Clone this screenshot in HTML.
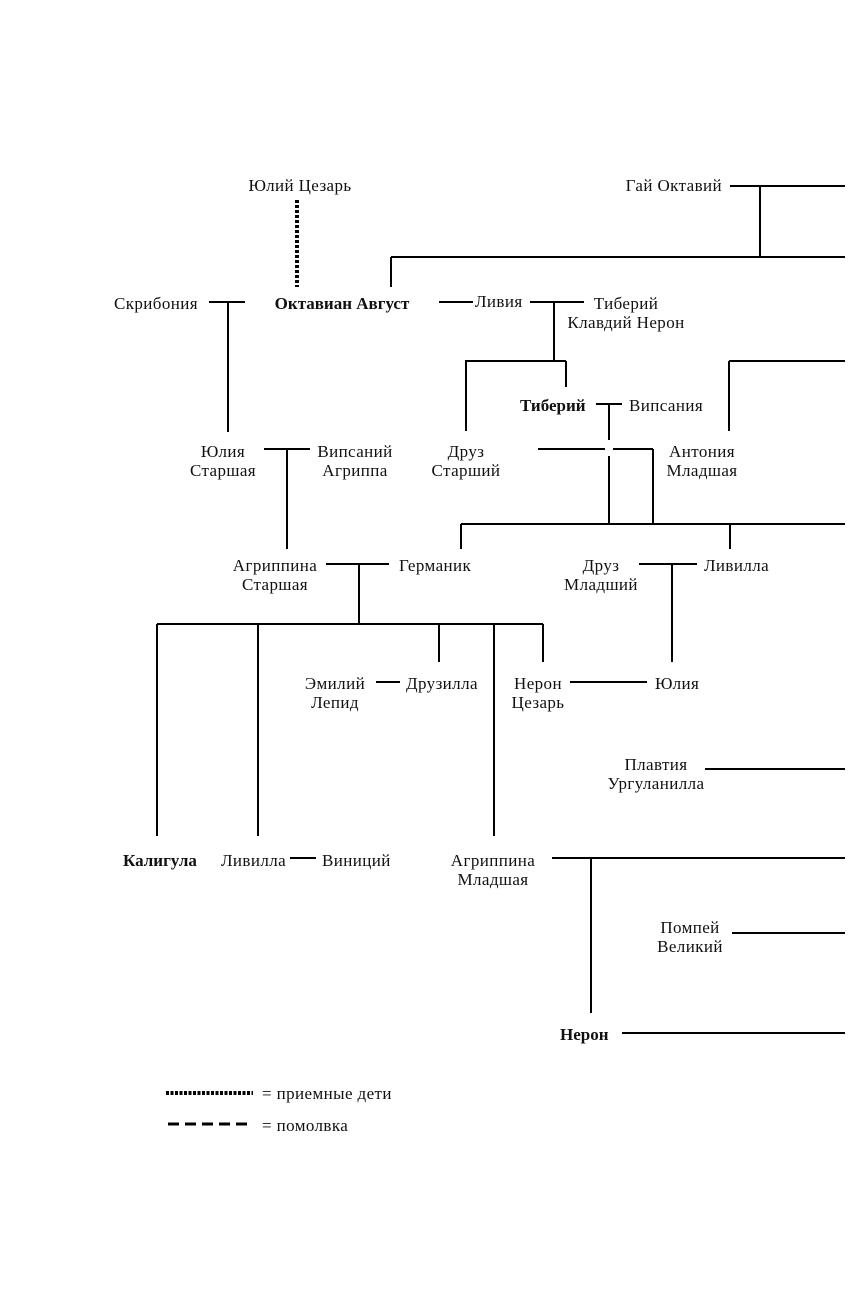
<!DOCTYPE html>
<html><head><meta charset="utf-8"><style>
html,body{margin:0;padding:0;background:#fff;}
svg{display:block}
text{font-family:"Liberation Serif",serif;font-size:17px;letter-spacing:0.4px;fill:#111;}
.b{font-weight:bold;letter-spacing:0}
</style></head><body>
<svg width="862" height="1299" viewBox="0 0 862 1299" xmlns="http://www.w3.org/2000/svg">
<g stroke="#000" stroke-width="2" fill="none">
<path d="M730 186H845M760 186V257M391 257H845M391 257V287"/>
<path d="M439 302H473M530 302H584M554 302V361M465 361H566M466 361V431M566 361V387"/>
<path d="M596 404H622M609 404V440M538 449H605M613 449H653M653 449V524M609 456V524"/>
<path d="M729 361H845M729 361V431M461 524H845M461 524V549M730 524V549"/>
<path d="M209 302H245M228 302V432M264 449H310M287 449V549"/>
<path d="M326 564H389M359 564V624M157 624H543M157 624V836M258 624V836M439 624V662M494 624V836M543 624V662"/>
<path d="M639 564H697M672 564V662M376 682H400M570 682H647"/>
<path d="M705 769H845M552 858H845M591 858V1013M290 858H316M732 933H845M622 1033H845"/>
<path d="M168 1124H253" stroke-width="3" stroke-dasharray="11,6"/>
</g>
<path d="M297 200V287" stroke="#000" stroke-width="4" stroke-dasharray="3,2"/>
<path d="M166 1093H253" stroke="#000" stroke-width="4" stroke-dasharray="3,1.5"/>
<g text-anchor="middle">
<text x="300" y="191">Юлий Цезарь</text>
<text x="342" y="309" class="b">Октавиан Август</text>
<text x="223" y="457">Юлия</text><text x="223" y="476">Старшая</text>
<text x="355" y="457">Випсаний</text><text x="355" y="476">Агриппа</text>
<text x="466" y="457">Друз</text><text x="466" y="476">Старший</text>
<text x="702" y="457">Антония</text><text x="702" y="476">Младшая</text>
<text x="626" y="309">Тиберий</text><text x="626" y="328">Клавдий Нерон</text>
<text x="275" y="571">Агриппина</text><text x="275" y="590">Старшая</text>
<text x="601" y="571">Друз</text><text x="601" y="590">Младший</text>
<text x="335" y="689">Эмилий</text><text x="335" y="708">Лепид</text>
<text x="538" y="689">Нерон</text><text x="538" y="708">Цезарь</text>
<text x="656" y="770">Плавтия</text><text x="656" y="789">Ургуланилла</text>
<text x="493" y="866">Агриппина</text><text x="493" y="885">Младшая</text>
<text x="690" y="933">Помпей</text><text x="690" y="952">Великий</text>
</g>
<text x="114" y="309">Скрибония</text>
<text x="475" y="307">Ливия</text>
<text x="722" y="191" text-anchor="end">Гай Октавий</text>
<text x="520" y="411" class="b">Тиберий</text>
<text x="629" y="411">Випсания</text>
<text x="399" y="571">Германик</text>
<text x="704" y="571">Ливилла</text>
<text x="406" y="689">Друзилла</text>
<text x="655" y="689">Юлия</text>
<text x="123" y="866" class="b">Калигула</text>
<text x="221" y="866">Ливилла</text>
<text x="322" y="866">Виниций</text>
<text x="560" y="1040" class="b">Нерон</text>
<text x="262" y="1099">= приемные дети</text>
<text x="262" y="1131">= помолвка</text>
</svg>
</body></html>
